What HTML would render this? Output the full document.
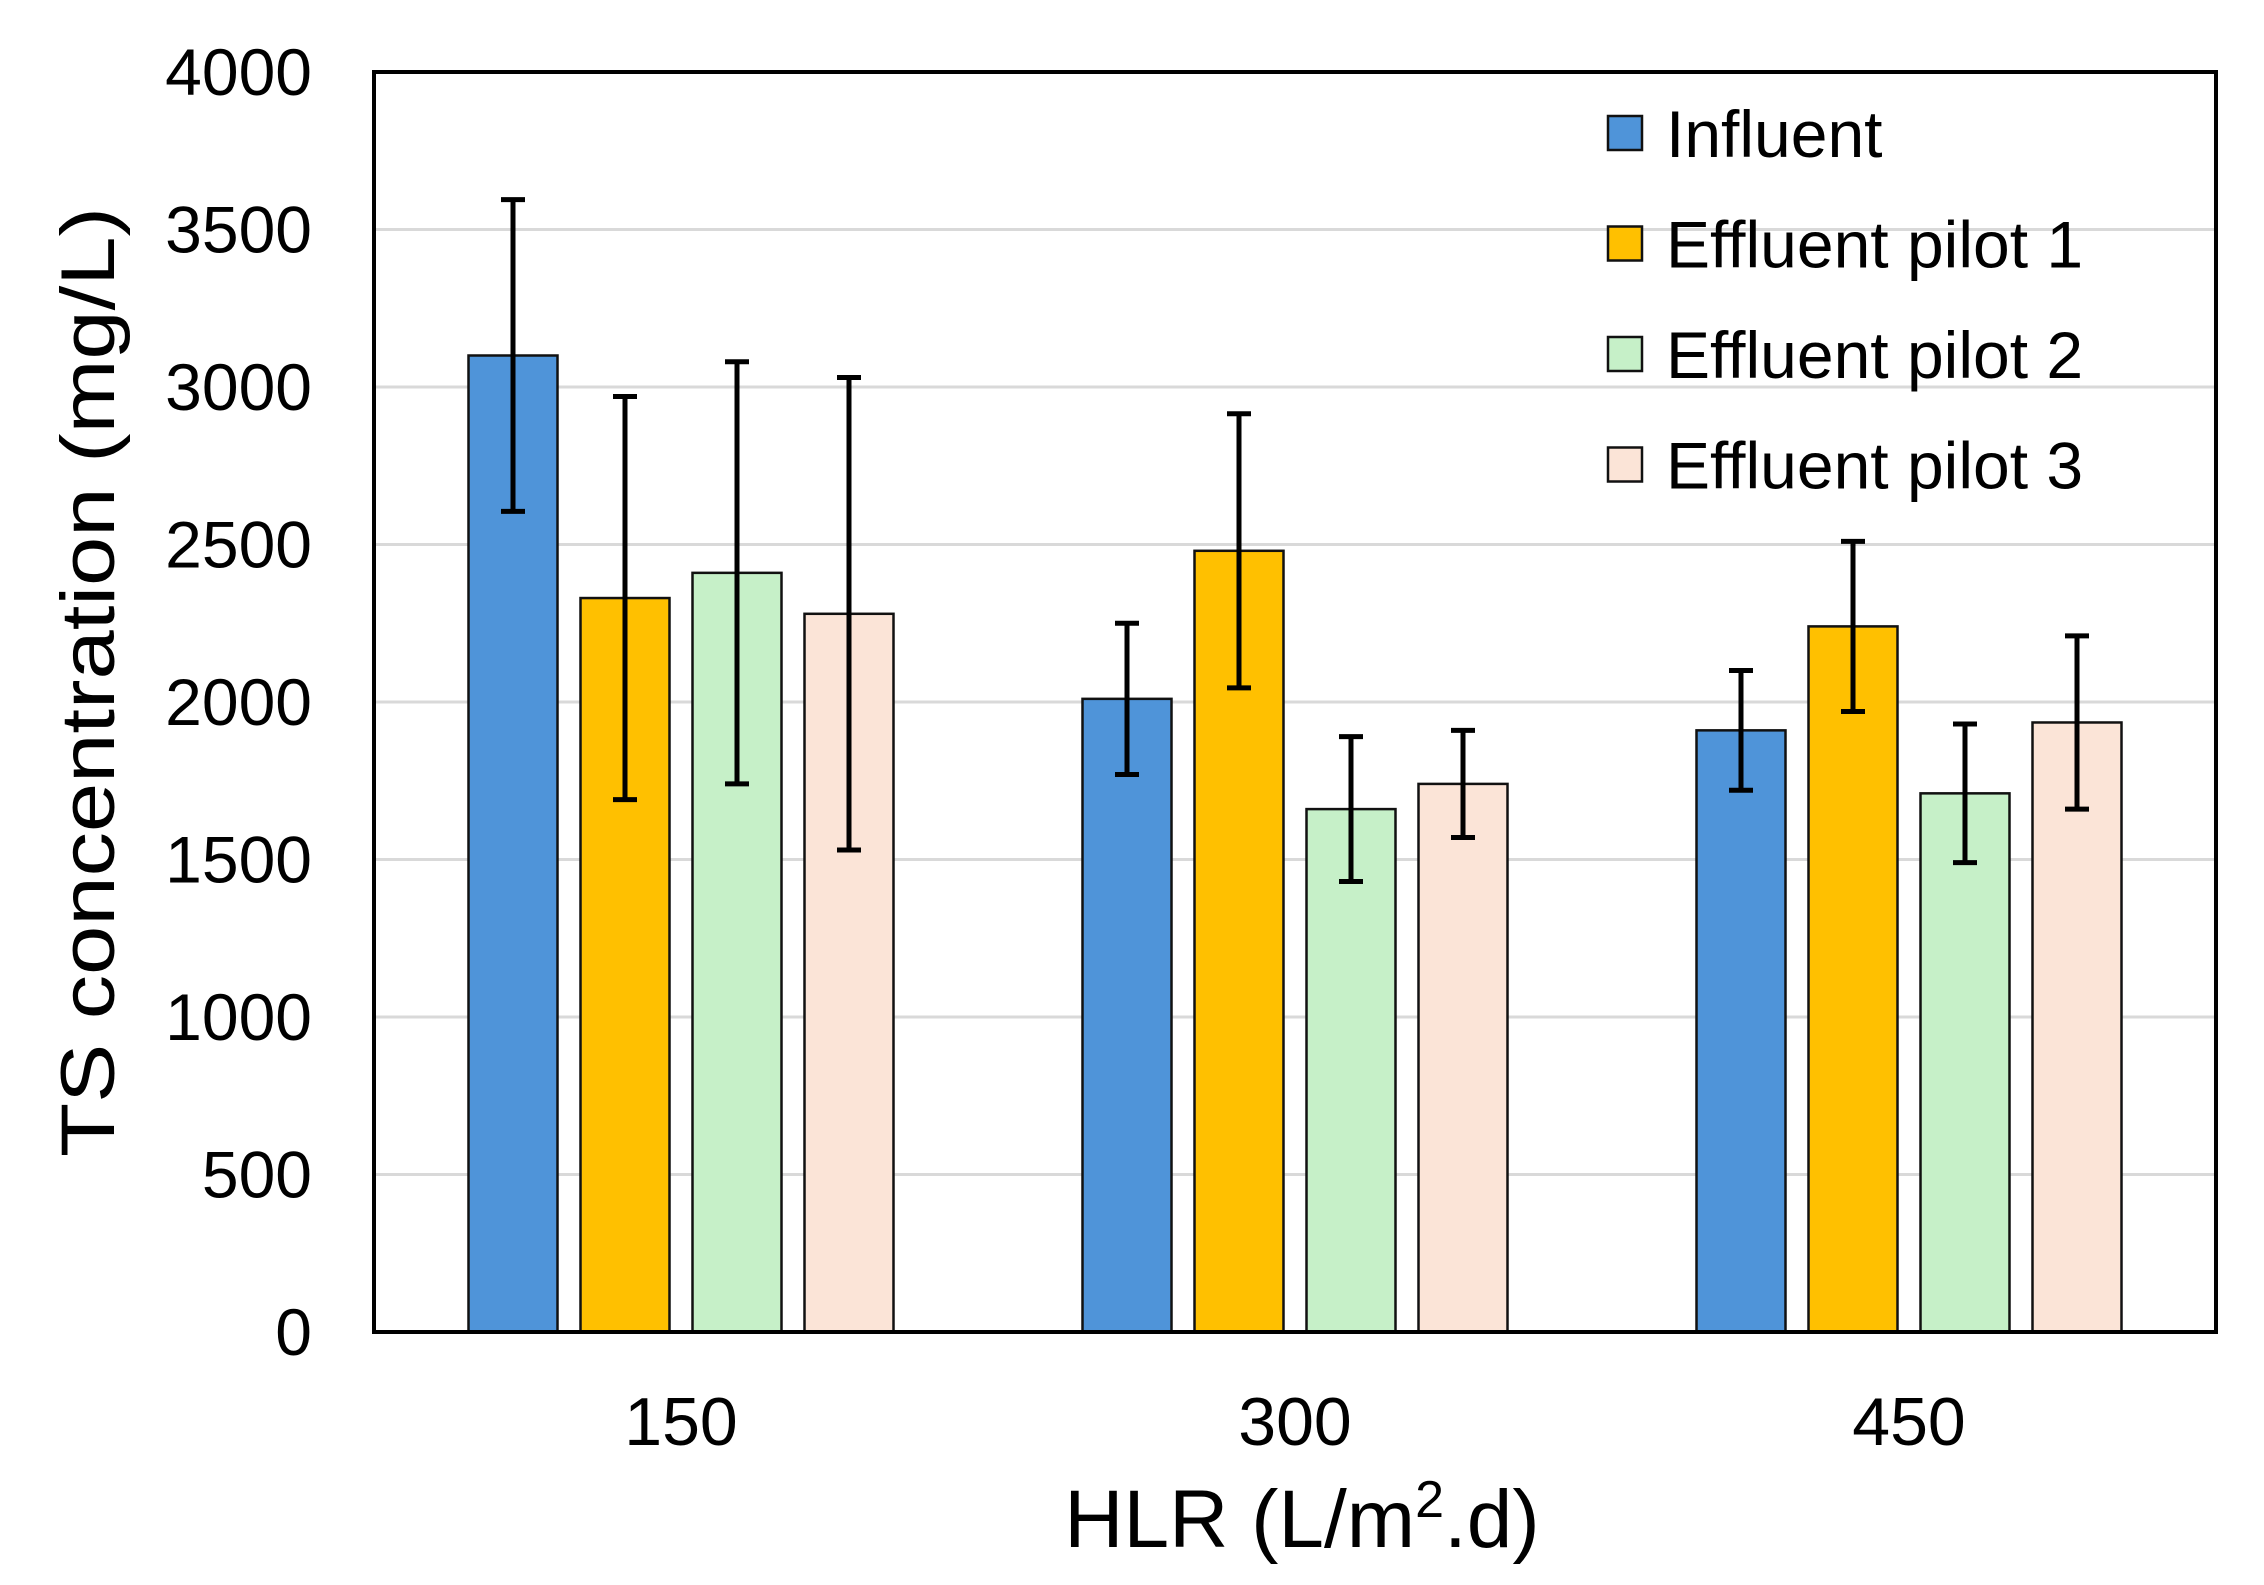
<!DOCTYPE html>
<html><head><meta charset="utf-8"><style>
html,body{margin:0;padding:0;background:#fff;}
svg{display:block;font-family:"Liberation Sans",Arial,sans-serif;}
</style></head><body>
<svg id="chart" width="2264" height="1585" viewBox="0 0 2264 1585" xmlns="http://www.w3.org/2000/svg">
<g id="grid"></g>
<g id="bars"></g>
<g id="errs"></g>
<rect x="374" y="72" width="1842" height="1260" fill="none" stroke="#000" stroke-width="4"/>
<g id="yt"></g>
<g id="xt"></g>
<text transform="translate(114,682) rotate(-90)" text-anchor="middle" font-size="76" textLength="950" lengthAdjust="spacingAndGlyphs">TS concentration (mg/L)</text>
<text x="1302" y="1547" text-anchor="middle" font-size="82">HLR (L/m<tspan font-size="52" dy="-30">2</tspan><tspan dy="30">.d)</tspan></text>
<g id="legend"></g>
</svg>
<script>
const categories = ["150", "300", "450"];
const seriesNames = ["Influent", "Effluent pilot 1", "Effluent pilot 2", "Effluent pilot 3"];
const influent = [3100, 2010, 1910];
const pilot1 = [2330, 2480, 2240];
const pilot2 = [2410, 1660, 1710];
const pilot3 = [2280, 1740, 1935];
const influentErr = [495, 240, 190];
const pilot1Err = [640, 435, 270];
const pilot2Err = [670, 230, 220];
const pilot3Err = [750, 170, 275];
const yTicks = [0, 500, 1000, 1500, 2000, 2500, 3000, 3500, 4000];

const series = [influent, pilot1, pilot2, pilot3];
const errs = [influentErr, pilot1Err, pilot2Err, pilot3Err];
const colors = ["#4f94d9", "#ffc000", "#c6f0c8", "#fbe4d7"];
const NS = "http://www.w3.org/2000/svg";
const L = 374, R = 2216, T = 72, B = 1332, YMAX = 4000;
const y = v => B - (v / YMAX) * (B - T);
const catW = (R - L) / categories.length;
const xc = i => L + catW * (i + 0.5);
const barW = 89, pitch = 112;
const barX = (i, s) => xc(i) + (s - (series.length - 1) / 2) * pitch - barW / 2;
function mk(tag, attrs, parent) {
  const e = document.createElementNS(NS, tag);
  for (const k in attrs) e.setAttribute(k, attrs[k]);
  parent.appendChild(e);
  return e;
}
const grid = document.getElementById('grid');
const yt = document.getElementById('yt');
yTicks.forEach(t => {
  if (t > 0 && t < YMAX) {
    const g = mk('line', {x1: L, x2: R, y1: y(t), y2: y(t), stroke: '#d9d9d9', 'stroke-width': 3}, grid);
    
    
  }
  const tx = mk('text', {x: 312, y: y(t) + 23, 'text-anchor': 'end', 'font-size': 66}, yt);
  tx.textContent = t;
  
  
});
const xt = document.getElementById('xt');
categories.forEach((c, i) => {
  const tx = mk('text', {x: xc(i), y: 1445, 'text-anchor': 'middle', 'font-size': 68}, xt);
  tx.textContent = c;
  
  
});
const bars = document.getElementById('bars');
const eg = document.getElementById('errs');
series.forEach((vals, s) => {
  vals.forEach((v, i) => {
    const r = mk('rect', {x: barX(i, s), y: y(v), width: barW, height: B - y(v), fill: colors[s], stroke: '#111', 'stroke-width': 2.5}, bars);
    
    
    const cx = barX(i, s) + barW / 2, e = errs[s][i];
    const eb = mk('path', {d: `M${cx},${y(v + e)}V${y(v - e)}M${cx - 12},${y(v + e)}H${cx + 12}M${cx - 12},${y(v - e)}H${cx + 12}`, stroke: '#000', 'stroke-width': 5, fill: 'none'}, eg);
    
    
  });
});
const lg = document.getElementById('legend');
seriesNames.forEach((n, s) => {
  const cy = 133 + s * 110.5;
  const r = mk('rect', {x: 1608, y: cy - 17, width: 34, height: 34, fill: colors[s], stroke: '#111', 'stroke-width': 2.5}, lg);
  
  
  const t = mk('text', {x: 1666, y: cy + 24, 'font-size': 66}, lg);
  t.textContent = n;
  
  
});
</script>
</body></html>
